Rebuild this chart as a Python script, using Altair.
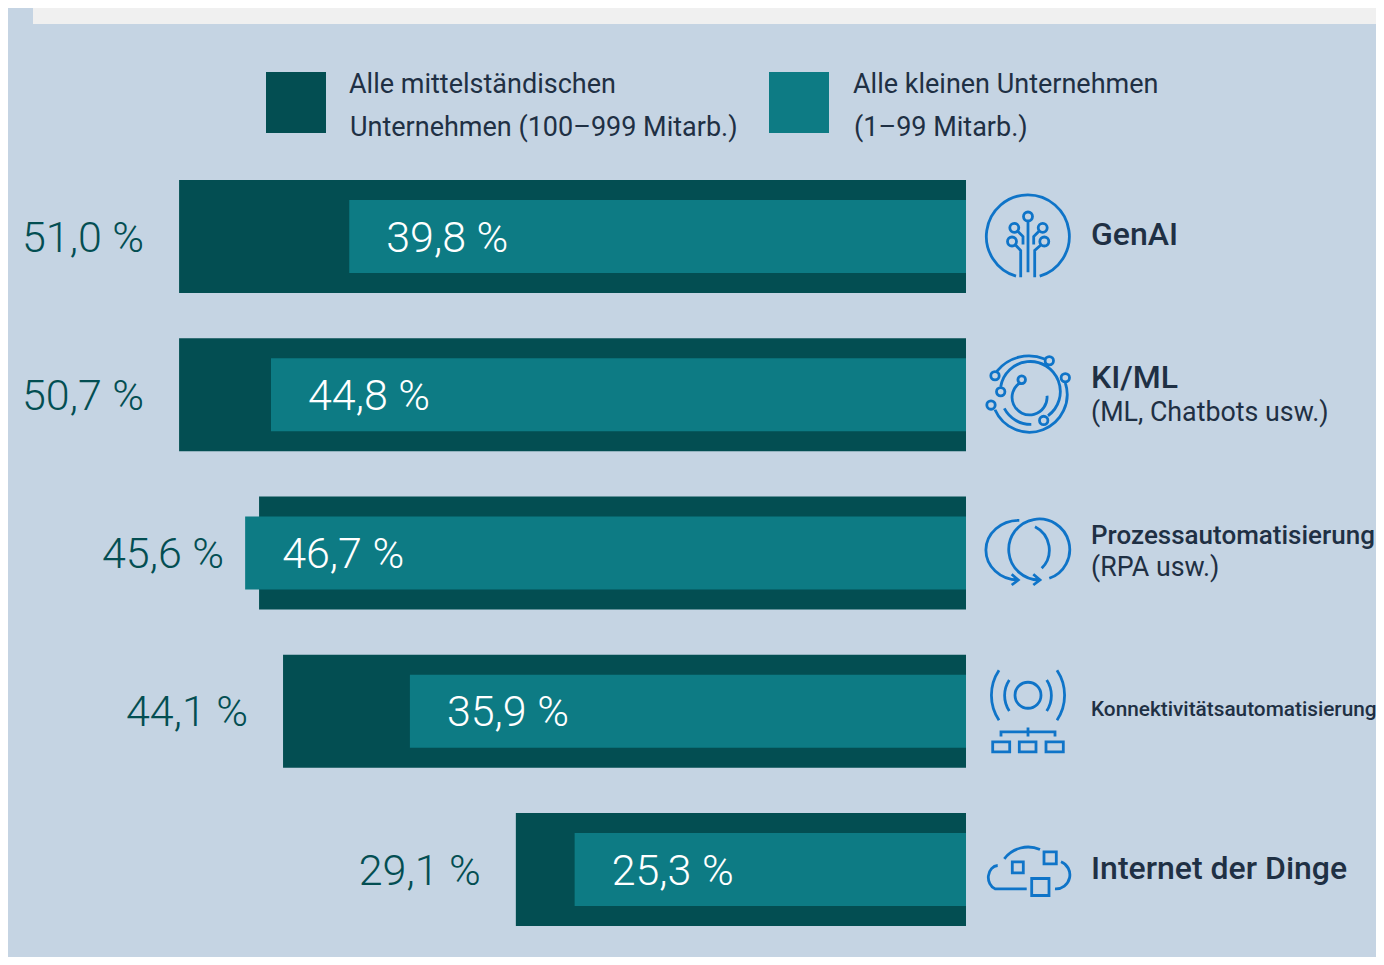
import altair as alt
import pandas as pd

categories = ["GenAI", "KI/ML", "Prozess", "Konnektivität", "IoT"]
mid_labels = ["51,0 %", "50,7 %", "45,6 %", "44,1 %", "29,1 %"]
small_labels = ["39,8 %", "44,8 %", "46,7 %", "35,9 %", "25,3 %"]
mid_bars = [50.87, 50.87, 45.7, 44.15, 29.1]
small_bars = [39.87, 44.93, 46.6, 35.95, 25.3]
legend_a = ["Alle mittelständischen", "Unternehmen (100–999 Mitarb.)"]
legend_b = ["Alle kleinen Unternehmen", "(1–99 Mitarb.)"]

BG, TOP, DARK, TEAL, INK, BLUE = "#c5d4e3", "#f0f0f0", "#034e52", "#0d7b84", "#1f3044", "#0f74c8"
ROBOTO = "Roboto"

df = pd.DataFrame({"cat": categories, "mid": mid_bars, "small": small_bars,
                   "ml": mid_labels, "sl": small_labels})

xs = alt.Scale(domain=[0, 61.93], range=[958, 0])
ys = alt.Scale(type="point", domain=categories, range=[228.5, 861.5], padding=0)
Y = alt.Y("cat:N", scale=ys, axis=None)
one = alt.Data(values=[{}])


def circ(cx, cy, r):
    return f"M{cx-r},{cy}a{r},{r} 0 1 0 {2*r},0a{r},{r} 0 1 0 {-2*r},0"


def box(x0, y0, x1, y1):
    return f"M{x0},{y0}L{x1},{y0}L{x1},{y1}L{x0},{y1}Z"


icons = {
    "GenAI": ("M-12,39.7A41.5,41.5 0 1 1 11.7,39.7"
    + "M0,-15L0,35.7" + circ(0, -20, 4.5)
    + circ(-13.7, -8.7, 4.5) + "M-10,-5L-5,0L-5,8"
    + circ(14.7, -8.7, 4.5) + "M10.7,-5L5.7,0L5.7,8"
    + circ(-16, 5, 4.5) + "M-12,9L-7.3,14L-7.3,40.7"
    + circ(16.3, 5, 4.5) + "M12.3,9L6.7,14L6.7,40.7", 0),
    "KI/ML": (circ(21.3, -36, 4.2) + circ(-33, -21, 4.2) + circ(37.3, -19, 4.2)
    + circ(-27.3, -5, 4.2) + circ(-6.3, -17, 3.8) + circ(-37, 8.3, 4.2) + circ(15.7, 23.7, 4.2)
    + "M-31,-25.7A41,41 0 0 1 16.7,-37.7"
    + "M37.3,-14A37.7,37.7 0 0 1 -33,13"
    + "M-27.3,-10A30,30 0 1 1 20,19"
    + "M-8,-14A17.5,17.5 0 1 0 19,-1"
    + "M-23.7,11.7A30,30 0 0 0 3.3,27.7", 2),
    "Prozess": ("M-8.7,-32.7A32.5,29.5 0 0 0 -9.7,27"
    + "M-16.3,21.3L-9.7,27L-16.3,32"
    + "M21.3,25.3A30.5,30.5 0 1 0 12,27"
    + "M5.3,21.3L12,27L5.3,32"
    + "M7,-26.3A26,26 0 0 1 13.7,15.3", 0),
    "Konnektivität": (circ(0, -16, 13)
    + "M-18.7,-31.3A28,28 0 0 0 -18.7,-0.3M18.7,-31.3A28,28 0 0 1 18.7,-0.3"
    + "M-29,-41A45,45 0 0 0 -29,9M29,-41A45,45 0 0 1 29,9"
    + "M-27,25.3L-27,20.7L27,20.7L27,25.3M0,16.3L0,25.3"
    + box(-35.3, 30.7, -18.3, 40.7) + box(-8.7, 30.7, 8, 40.7) + box(18, 30.7, 35.3, 40.7), 0),
    "IoT": ("M-23.7,-10.7A30,30 0 0 1 12,-20"
    + "M-30.3,-4A10,12 0 0 0 -33,19.3L-1.3,19.3"
    + "M33,-7.7A14,14 0 0 1 27,19.3"
    + box(-15.7, -7.7, -4.7, 3.3) + box(16, -17.7, 28.3, -5.7) + box(3.7, 9, 21, 26), 0),
}

labels = [
    ("GenAI", "GenAI", 32, 500, -2),
    ("KI/ML", "KI/ML", 32, 500, -17),
    ("KI/ML", "(ML, Chatbots usw.)", 26.8, 400, 18),
    ("Prozess", "Prozessautomatisierung", 26, 500, -17),
    ("Prozess", "(RPA usw.)", 26.8, 400, 15),
    ("Konnektivität", "Konnektivitätsautomatisierung", 20.8, 500, -1),
    ("IoT", "Internet der Dinge", 32, 500, -1),
]

layers = [
    alt.Chart(one).mark_rect(color=TOP).encode(x=alt.value(25), x2=alt.value(1368), y=alt.value(0), y2=alt.value(16)),
    alt.Chart(one).mark_rect(color=DARK).encode(x=alt.value(258), x2=alt.value(318), y=alt.value(64), y2=alt.value(125)),
    alt.Chart(one).mark_rect(color=TEAL).encode(x=alt.value(761), x2=alt.value(821), y=alt.value(64), y2=alt.value(125)),
    alt.Chart(df).mark_bar(size=113, color=DARK).encode(x=alt.X("mid:Q", scale=xs, axis=None), y=Y),
    alt.Chart(df).mark_bar(size=73, color=TEAL).encode(x=alt.X("small:Q", scale=xs, axis=None), y=Y),
    alt.Chart(df).mark_text(align="right", baseline="middle", dx=-35, dy=2, font=ROBOTO, fontWeight=300, fontSize=43, color=DARK)
    .encode(x=alt.X("mid:Q", scale=xs, axis=None), y=Y, text="ml:N"),
    alt.Chart(df).mark_text(align="left", baseline="middle", dx=37, dy=2, font=ROBOTO, fontWeight=300, fontSize=43, color="white")
    .encode(x=alt.X("small:Q", scale=xs, axis=None), y=Y, text="sl:N"),
]

for xpos, lines in ((341, legend_a), (845, legend_b)):
    for i, line in enumerate(lines):
        layers.append(
            alt.Chart(alt.Data(values=[{"t": line}]))
            .mark_text(align="left", baseline="middle", font=ROBOTO, fontSize=27, color=INK)
            .encode(x=alt.value(xpos + (1 if i else 0)), y=alt.value(77 + 43 * i), text="t:N")
        )

for cat, text, size, weight, dy in labels:
    layers.append(
        alt.Chart(alt.Data(values=[{"cat": cat, "t": text, "z": 0}]))
        .mark_text(align="left", baseline="middle", dx=125, dy=dy, font=ROBOTO, fontSize=size, fontWeight=weight, color=INK)
        .encode(x=alt.X("z:Q", scale=xs, axis=None), y=Y, text="t:N")
    )

for cat, (path, shift) in icons.items():
    layers.append(
        alt.Chart(alt.Data(values=[{"cat": cat, "z": 0}]))
        .mark_point(shape=path, size=4, filled=False, stroke=BLUE, strokeWidth=2.8, opacity=1)
        .encode(x=alt.X("z:Q", scale=xs, axis=None), xOffset=alt.value(62), y=Y, yOffset=alt.value(shift))
    )

chart = (
    alt.layer(*layers)
    .properties(width=1368, height=949, background=BG, padding=0,
                autosize=alt.AutoSizeParams(type="none"))
    .configure_view(stroke=None)
)
chart.save("out.html", embed_options={"renderer": "svg", "actions": False})
